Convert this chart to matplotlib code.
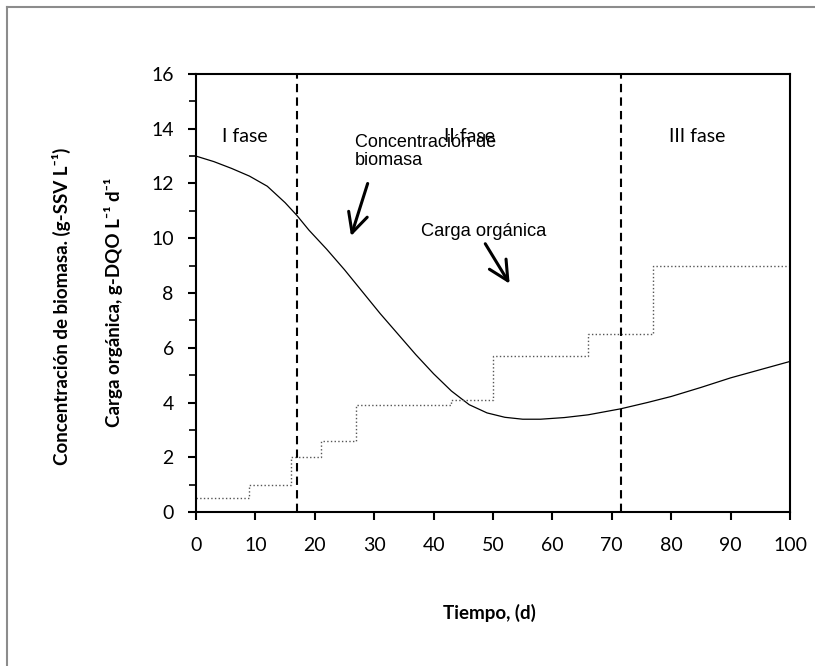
import matplotlib
matplotlib.use("Agg")
from matplotlib import pyplot as plt
from matplotlib.lines import Line2D

# biomass concentration curve (g-SSV/L)
dias_bio = [0, 3, 6, 9, 12, 15, 17, 19, 22, 25, 28, 31, 34, 37, 40, 43, 46, 49,
            52, 55, 58, 62, 66, 71.5, 76, 80, 85, 90, 95, 100]
biomasa = [13.0, 12.8, 12.55, 12.27, 11.9, 11.3, 10.83, 10.3, 9.6, 8.85, 8.05,
           7.25, 6.5, 5.75, 5.05, 4.42, 3.92, 3.62, 3.46, 3.39, 3.39, 3.45, 3.55,
           3.77, 4.0, 4.22, 4.55, 4.9, 5.2, 5.5]

# organic load steps (g-DQO/L/d)
dias_carga = [0, 9, 16, 21, 27, 43, 50, 66, 77, 100]
carga = [0.5, 1.0, 2.0, 2.6, 3.9, 4.1, 5.7, 6.5, 9.0, 9.0]

# phase limits
limites = [17, 71.5]
fases = ["I fase", "II fase", "III fase"]
fases_x = [8.2, 46, 84.4]

fig = plt.figure(figsize=(8.15, 6.66), dpi=100)
ax = fig.add_axes([0.2405, 0.2312, 0.7288, 0.6577])

ax.plot(dias_bio, biomasa, color="black", lw=0.9)
ax.step(dias_carga, carga, where="post", color="#555555", lw=1.0, linestyle=":")
for xl in limites:
    ax.plot([xl, xl], [0, 16], color="black", lw=1.5, dashes=(4, 2.5))

for f, fx in zip(fases, fases_x):
    ax.text(fx, 13.7, f, family="Lato", fontsize=14, ha="center", va="center")

ax.text(26.7, 13.8, "Concentración de\nbiomasa", family="Liberation Sans",
        fontsize=13, ha="left", va="top", linespacing=1.05)
ax.text(48.4, 10.25, "Carga orgánica", family="Liberation Sans",
        fontsize=13.2, ha="center", va="center")

flecha = dict(arrowstyle="->,head_length=0.7,head_width=0.35", lw=2.2,
              color="black", mutation_scale=20, shrinkA=0, shrinkB=0)
ax.annotate("", xy=(26.1, 10.08), xytext=(28.9, 12.0), arrowprops=flecha)
ax.annotate("", xy=(52.8, 8.34), xytext=(48.7, 9.8), arrowprops=flecha)

ax.set_xlim(0, 100)
ax.set_ylim(0, 16)
ax.set_xticks(range(0, 101, 10))
ax.set_yticks(range(0, 17, 2))
ax.set_yticks(range(1, 16, 2), minor=True)
for lab in ax.get_xticklabels() + ax.get_yticklabels():
    lab.set_family("Lato")
    lab.set_fontsize(14)
ax.tick_params(axis="y", which="major", direction="out", length=6, width=1.5, pad=10)
ax.tick_params(axis="y", which="minor", direction="out", length=5, width=1.2)
ax.tick_params(axis="x", which="major", direction="out", length=6, width=1.5, pad=12)
for s in ax.spines.values():
    s.set_linewidth(1.5)

fig.text(0.076, 0.5405, "Concentración de biomasa. (g-SSV L⁻¹)", rotation=90,
         family=["Lato", "DejaVu Sans"], fontweight="bold", fontsize=13.5,
         ha="center", va="center")
fig.text(0.139, 0.546, "Carga orgánica, g-DQO L⁻¹ d⁻¹", rotation=90,
         family=["Lato", "DejaVu Sans"], fontweight="bold", fontsize=13.5,
         ha="center", va="center")
fig.text(0.6, 1 - 612.7 / 666, "Tiempo, (d)", family="Lato", fontweight="bold",
         fontsize=13.5, ha="center", va="center")

# grey chart-area border (only top and left are visible)
fig.add_artist(Line2D([0.0086, 1.0], [0.9895, 0.9895], color="#8c8c8c", lw=1.5))
fig.add_artist(Line2D([0.0086, 0.0086], [0.0, 0.9895], color="#8c8c8c", lw=1.5))

plt.savefig("out.png", dpi=100)
